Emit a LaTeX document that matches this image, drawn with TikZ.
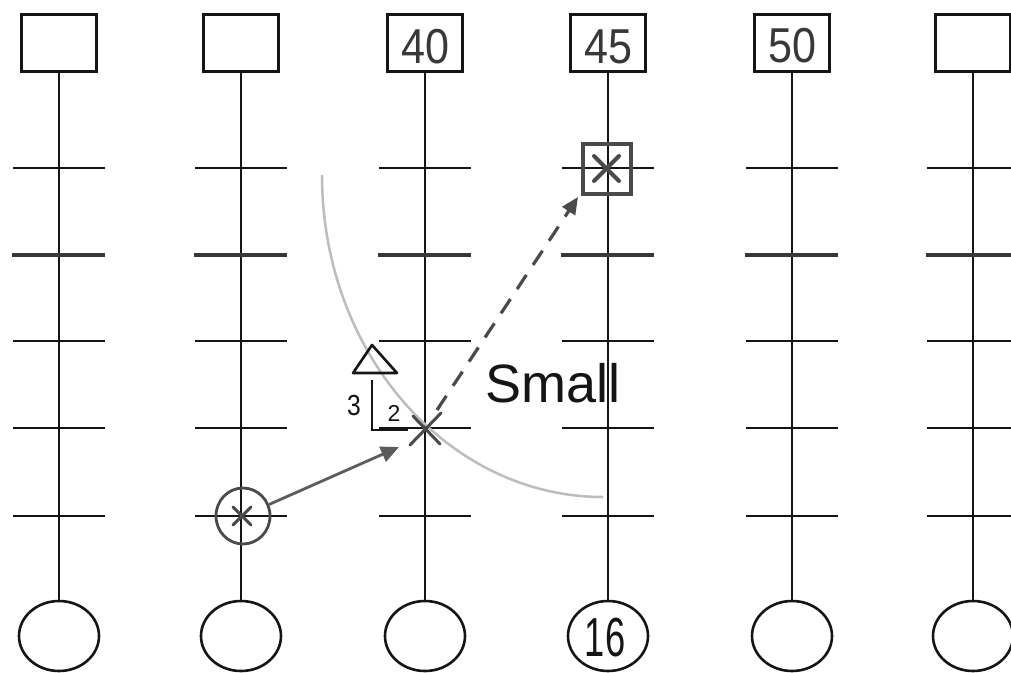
\documentclass[tikz,border=0pt]{standalone}
\usepackage{fontspec}
\setmainfont{Liberation Sans}
\usetikzlibrary{arrows.meta,shapes.geometric}
\definecolor{ink}{HTML}{151515}
\definecolor{pencil}{HTML}{4A4A4A}
\definecolor{arcgrey}{HTML}{BDBDBD}
\begin{document}
\begin{tikzpicture}[x=1pt,y=-1pt,
  topbox/.style={draw=ink,line width=3pt,minimum width=75pt,minimum height=57pt,inner sep=0pt,text=ink!85},
  botcirc/.style={draw=ink,ellipse,line width=2.6pt,minimum width=80pt,minimum height=70pt,inner sep=0pt,text=ink},
  stem/.style={draw=ink,line width=2.8pt},
  tickline/.style={draw=ink,line width=2.5pt},
  thicktick/.style={draw=ink!85,line width=4.5pt},
  penmark/.style={draw=pencil,line width=3pt,line cap=round},
  boxnum/.style={font=\fontsize{49}{49}\selectfont,text=ink!85,inner sep=0pt},
  hand/.style={text=ink,inner sep=0pt}]
\useasboundingbox (0,0) rectangle (1011,672);
\clip (0,0) rectangle (1011,672);
\fill[white] (0,0) rectangle (1011,672);
% columns
\foreach \i/\x in {1/59,2/241,3/425,4/608,5/792,6/973}{
  \node[topbox] (b\i) at (\x,43) {};
  \node[botcirc] (c\i) at (\x,636) {};
  \draw[stem] (b\i.south) -- (c\i.north);
  \foreach \y in {168,341,428,516}{
    \draw[tickline] (\x-46,\y) -- (\x+46,\y);
  }
  \draw[thicktick] (\x-47,255) -- (\x+46,255);
}
% numbers in boxes and circle
\node[boxnum] (n40) at (425,47) {\scalebox{0.88}[1]{40}};
\node[boxnum] (n45) at (608,47) {\scalebox{0.88}[1]{45}};
\node[boxnum] (n50) at (792,46) {\scalebox{0.88}[1]{50}};
\node[hand,font=\fontsize{55}{55}\selectfont] (n16) at (605,638) {\scalebox{0.66}[1]{16}};
% grey arc
\draw[arcgrey,line width=2.5pt] (322,175) arc[start angle=180,end angle=90,x radius=281,y radius=322];
% circled asterisk
\node[draw=pencil,ellipse,line width=2.8pt,minimum width=54pt,minimum height=56pt,inner sep=0pt] (m1) at (243,516) {};
\draw[penmark] (233,507) -- (251,525);
\draw[penmark] (233,525) -- (251,507);
% boxed asterisk
\node[draw=pencil,line width=3.2pt,minimum width=48pt,minimum height=50pt,inner sep=0pt] (m2) at (607,169) {};
\draw[penmark,line width=4pt] (594,156) -- (619,181);
\draw[penmark,line width=4pt] (594,181) -- (619,156);
% X mark at crossing
\coordinate (xm) at (425,429);
\draw[penmark,line width=3pt] (410,445) -- (441,413);
\draw[penmark,line width=3pt] (413,416) -- (440,444);
% solid arrow
\coordinate (a1) at (399,447);
\draw[draw=pencil!90,line width=2.8pt,-{Triangle[length=18pt,width=16pt]}] (m1) -- (a1);
% dashed arrow
\coordinate (d0) at (437,410);
\coordinate (d1) at (578,197);
\draw[draw=pencil,line width=3.2pt,dash pattern=on 17pt off 12pt,-{Triangle[length=17pt,width=15pt]}] (d0) -- (d1);
% triangle
\draw[draw=ink,line width=2.6pt,line join=round] (372,345) -- (397,373) -- (353,373) -- cycle;
% right-angle marker
\draw[draw=ink,line width=2.2pt] (372,380) -- (372,430) -- (408,430);
\node[hand,font=\fontsize{29}{29}\selectfont] (l3) at (354,406) {\scalebox{0.85}[1]{3}};
\node[hand,font=\fontsize{23}{23}\selectfont] (l2) at (394,413) {2};
% label Small
\node[hand,font=\fontsize{54}{54}\selectfont] (small) at (553,383) {Small};
\end{tikzpicture}
\end{document}
